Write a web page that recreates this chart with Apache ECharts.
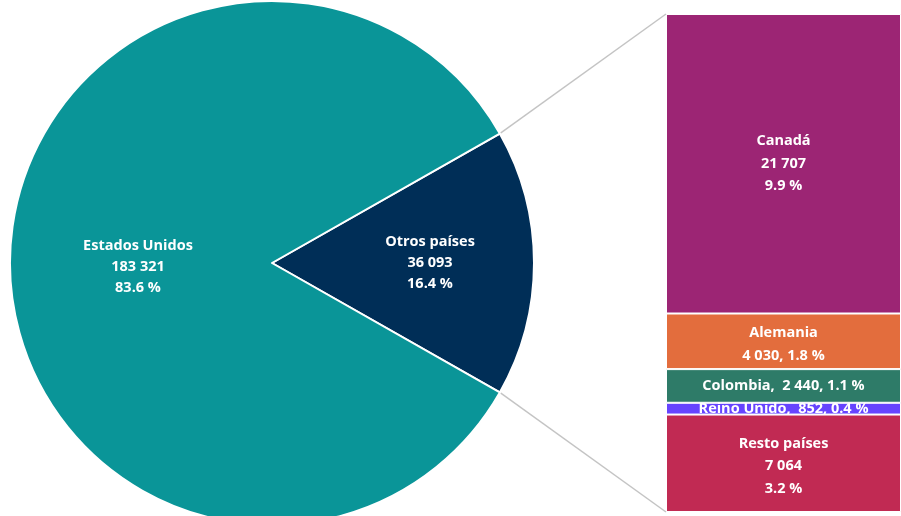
<!DOCTYPE html>
<html>
<head>
<meta charset="utf-8">
<script src="https://cdn.jsdelivr.net/npm/echarts@6/dist/echarts.min.js"></script>
<style>html,body{margin:0;padding:0;background:#fff;}#c{width:901px;height:516px;}</style>
</head>
<body>
<div id="c"></div>
<script>
// Pie data
var pieNames = ['Otros países', 'Estados Unidos'];
var pieValues = [36093, 183321];
// Breakdown of "Otros países" (top to bottom in the bar)
var barNames = ['Canadá', 'Alemania', 'Colombia', 'Reino Unido', 'Resto países'];
var barValues = [21707, 4030, 2440, 852, 7064];

var pieColors = ['#002e57', '#0a9598'];
var barColors = ['#9c2574', '#e36d3d', '#2e7b68', '#6644ff', '#c12a53'];
var barLabelStyle = ['stack3', 'stack2', 'line', 'line', 'stack3'];
var barLabelDy = [0, 3, 0, 0, 3];

var total = pieValues.reduce(function (a, b) { return a + b; }, 0);
var otros = pieValues[0];

function fmt(n) { return String(n).replace(/\B(?=(\d{3})+(?!\d))/g, ' '); }
function pct(n) { return (n / total * 100).toFixed(1) + ' %'; }

var FONT = 'Open Sans';
var FS = 14.5;
var chart = echarts.init(document.getElementById('c'), null, { renderer: 'canvas' });

var pieCenter = [272, 263];
var pieRadius = 262;
var halfAngle = 360 * otros / total / 2;

var series = [{
  type: 'pie',
  center: pieCenter,
  radius: pieRadius,
  startAngle: halfAngle,
  clockwise: true,
  silent: true,
  data: pieNames.map(function (n, i) {
    return { name: n, value: pieValues[i], itemStyle: { color: pieColors[i] } };
  }),
  itemStyle: { borderColor: '#fff', borderWidth: 2 },
  label: {
    position: 'inside',
    color: '#fff',
    fontFamily: FONT,
    fontWeight: 'bold',
    fontSize: FS,
    lineHeight: 21,
    formatter: function (p) { return p.name + '\n' + fmt(p.value) + '\n' + pct(p.value); }
  },
  labelLayout: function (p) { return p.dataIndex === 0 ? { dx: 12 } : { dy: 2 }; },
  labelLine: { show: false }
}];

// Stack bottom-to-top: reverse order
for (var k = barNames.length - 1; k >= 0; k--) {
  (function (i) {
    series.push({
      type: 'bar',
      name: barNames[i],
      stack: 'otros',
      barWidth: '100%',
      silent: true,
      data: [barValues[i]],
      itemStyle: { color: barColors[i], borderColor: '#fff', borderWidth: 1 },
      label: {
        show: true,
        position: 'inside',
        color: '#fff',
        fontFamily: FONT,
        fontWeight: 'bold',
        fontSize: FS,
        lineHeight: 22.5,
        formatter: function () {
          var s = barLabelStyle[i], v = barValues[i];
          if (s === 'stack3') return barNames[i] + '\n' + fmt(v) + '\n' + pct(v);
          if (s === 'stack2') return barNames[i] + '\n' + fmt(v) + ', ' + pct(v);
          return barNames[i] + ',  ' + fmt(v) + ', ' + pct(v);
        }
      },
      labelLayout: { dy: barLabelDy[i] }
    });
  })(k);
}

chart.setOption({
  animation: false,
  backgroundColor: '#fff',
  grid: { left: 666, top: 14, width: 236, height: 498, containLabel: false },
  xAxis: { type: 'category', data: ['Otros'], show: false, boundaryGap: true },
  yAxis: { type: 'value', min: 0, max: otros, show: false },
  series: series
});

// Connector lines from the pie slice corners to the bar corners
var rad = halfAngle * Math.PI / 180;
var p1 = [pieCenter[0] + pieRadius * Math.cos(rad), pieCenter[1] - pieRadius * Math.sin(rad)];
var p2 = [pieCenter[0] + pieRadius * Math.cos(rad), pieCenter[1] + pieRadius * Math.sin(rad)];
var rect = chart.getModel().getComponent('grid').coordinateSystem.getRect();
var topY = chart.convertToPixel({ gridIndex: 0 }, ['Otros', otros])[1];
var botY = chart.convertToPixel({ gridIndex: 0 }, ['Otros', 0])[1];
chart.setOption({
  graphic: [
    { type: 'line', shape: { x1: p1[0], y1: p1[1], x2: rect.x, y2: topY }, style: { stroke: '#c4c4c4', lineWidth: 1.5 }, z: 0 },
    { type: 'line', shape: { x1: p2[0], y1: p2[1], x2: rect.x, y2: botY }, style: { stroke: '#c4c4c4', lineWidth: 1.5 }, z: 0 }
  ]
});
</script>
</body>
</html>
